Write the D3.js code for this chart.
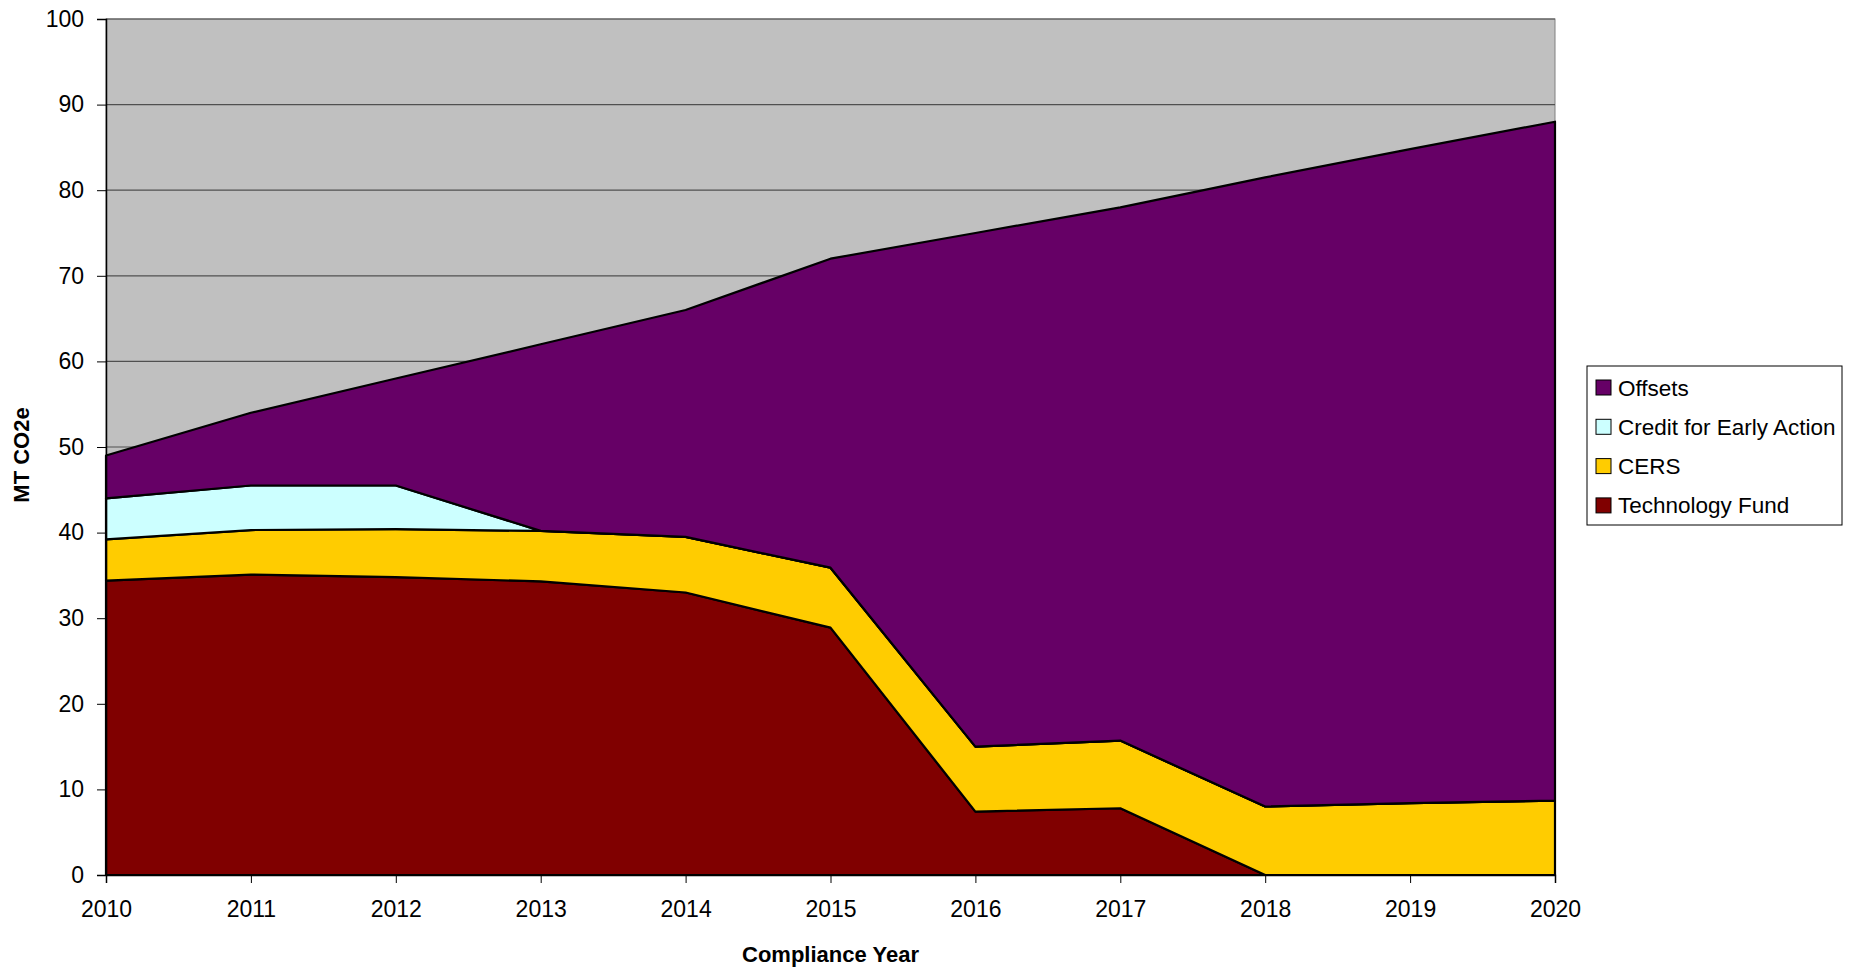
<!DOCTYPE html>
<html>
<head>
<meta charset="utf-8">
<script src="https://cdn.jsdelivr.net/npm/d3@7"></script>
<style>
  body { margin: 0; background: #fff; }
  svg { display: block; font-family: "Liberation Sans", Arial, sans-serif; }
</style>
</head>
<body>
<svg id="chart" width="1849" height="968"></svg>
<script>
// chart data
var years = [2010, 2011, 2012, 2013, 2014, 2015, 2016, 2017, 2018, 2019, 2020];
var technologyFund = [34.4, 35.1, 34.8, 34.3, 33.0, 28.9, 7.4, 7.8, 0, 0, 0];
var cers = [4.8, 5.2, 5.6, 5.9, 6.5, 7.0, 7.6, 7.9, 8.0, 8.4, 8.7];
var earlyAction = [4.8, 5.2, 5.1, 0, 0, 0, 0, 0, 0, 0, 0];
var offsets = [5.0, 8.5, 12.5, 21.8, 26.5, 36.1, 60.0, 62.3, 73.5, 76.4, 79.3];
var yTicks = [0, 10, 20, 30, 40, 50, 60, 70, 80, 90, 100];

var seriesNames = ["Technology Fund", "CERS", "Credit for Early Action", "Offsets"];
var seriesColors = ["#800000", "#FFCC00", "#CCFFFF", "#660066"];

//build rows for the stack
var rows = years.map(function(y, i) {
  return {
    year: y,
    "Technology Fund": technologyFund[i],
    "CERS": cers[i],
    "Credit for Early Action": earlyAction[i],
    "Offsets": offsets[i]
  };
});

//plot box (window.top is reserved, so no plain "top")
var plotLeft = 106, plotRight = 1555, plotTop = 19, plotBottom = 875;

var svg = d3.select("#chart");

var x = d3.scaleLinear().domain([2010, 2020]).range([plotLeft, plotRight]);
var y = d3.scaleLinear().domain([0, 100]).range([plotBottom, plotTop]);

//plot background
svg.append("rect")
  .attr("x", plotLeft).attr("y", plotTop)
  .attr("width", plotRight - plotLeft).attr("height", plotBottom - plotTop)
  .attr("fill", "#C0C0C0")
  .attr("stroke", "#808080").attr("stroke-width", 1);

//gridlines
svg.append("g").selectAll("line")
  .data(yTicks.filter(function(t){ return t > 0; }))
  .enter().append("line")
  .attr("x1", plotLeft).attr("x2", plotRight)
  .attr("y1", function(d){ return y(d); })
  .attr("y2", function(d){ return y(d); })
  .attr("stroke", "#505050").attr("stroke-width", 1.2);

//stacked areas
var stack = d3.stack().keys(seriesNames);
var layers = stack(rows);

var area = d3.area()
  .x(function(d){ return x(d.data.year); })
  .y0(function(d){ return y(d[0]); })
  .y1(function(d){ return y(d[1]); });

svg.append("g").selectAll("path")
  .data(layers)
  .enter().append("path")
  .attr("d", area)
  .attr("fill", function(d, i){ return seriesColors[i]; })
  .attr("stroke", "#000")
  .attr("stroke-width", 2.2)
  .attr("stroke-linejoin", "round");

//axes
var xAxis = d3.axisBottom(x).tickValues(years).tickFormat(d3.format("d")).tickSizeOuter(0).tickSize(8).tickPadding(18);
var yAxis = d3.axisLeft(y).tickValues(yTicks).tickSizeOuter(0).tickSize(9).tickPadding(13);

var gx = svg.append("g").attr("transform", "translate(0," + plotBottom + ")").call(xAxis);
var gy = svg.append("g").attr("transform", "translate(" + plotLeft + ",0)").call(yAxis);

[gx, gy].forEach(function(g){
  g.selectAll("path").attr("stroke", "#000").attr("stroke-width", 1.5);
  g.selectAll("line").attr("stroke", "#000");
  g.selectAll("text").attr("fill", "#000").style("font-size", "23px")
    .style("font-family", "'Liberation Sans', Arial, sans-serif");
});

//axis titles
svg.append("text")
  .attr("x", (plotLeft + plotRight) / 2).attr("y", 962)
  .attr("text-anchor", "middle")
  .style("font-size", "22px").style("font-weight", "bold")
  .text("Compliance Year");

svg.append("text")
  .attr("transform", "translate(29,455) rotate(-90)")
  .attr("text-anchor", "middle")
  .style("font-size", "22px").style("font-weight", "bold")
  .text("MT CO2e");

//legend, top series first
var legend = svg.append("g");
legend.append("rect")
  .attr("x", 1587).attr("y", 366)
  .attr("width", 255).attr("height", 159)
  .attr("fill", "#fff").attr("stroke", "#000").attr("stroke-width", 1);

var legendOrder = seriesNames.slice().reverse();
var item = legend.selectAll("g.item")
  .data(legendOrder)
  .enter().append("g")
  .attr("class", "item")
  .attr("transform", function(d, i){ return "translate(1596," + (387.5 + i * 39.3) + ")"; });

item.append("rect")
  .attr("x", 0).attr("y", -7.5)
  .attr("width", 15).attr("height", 15)
  .attr("fill", function(d){ return seriesColors[seriesNames.indexOf(d)]; })
  .attr("stroke", "#000").attr("stroke-width", 1);

item.append("text")
  .attr("x", 22).attr("y", 8)
  .style("font-size", "22.5px")
  .text(function(d){ return d; });
</script>
</body>
</html>
